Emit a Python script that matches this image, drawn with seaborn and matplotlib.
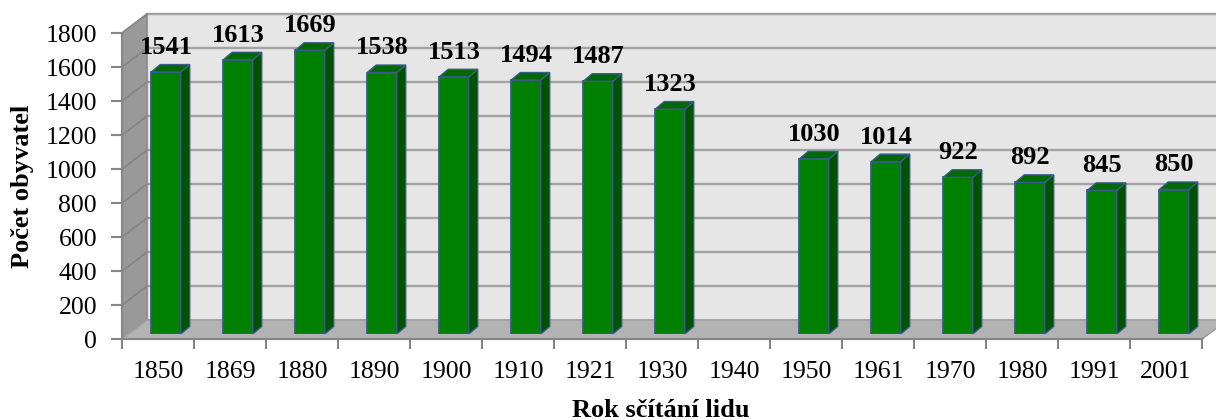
import numpy as np
import matplotlib
matplotlib.use('Agg')
import matplotlib.pyplot as plt
import seaborn as sns
from matplotlib.patches import Polygon

# data
years = ['1850', '1869', '1880', '1890', '1900', '1910', '1921', '1930',
         '1940', '1950', '1961', '1970', '1980', '1991', '2001']
population = [1541, 1613, 1669, 1538, 1513, 1494, 1487, 1323,
              np.nan, 1030, 1014, 922, 892, 845, 850]
y_ticks = list(range(0, 1801, 200))

plt.rcParams['font.family'] = ['Liberation Serif', 'DejaVu Serif']

W, H = 1216, 420
fig = plt.figure(figsize=(W / 100, H / 100), dpi=100)

# front plane of the 3D box in pixels
x0, x1, yb, yt = 122, 1202, 339, 33
ax = fig.add_axes([x0 / W, (H - yb) / H, (x1 - x0) / W, (yb - yt) / H])
n = len(years)
ax.set_xlim(-0.5, n - 0.5)
ax.set_ylim(0, 1800)
px_x = n / (x1 - x0)
px_y = 1800 / (yb - yt)

# depth of walls
DX, DY = 25 * px_x, 19 * px_y
L, R = -0.5, n - 0.5

back = Polygon([(L + DX, DY), (R + DX, DY), (R + DX, 1800 + DY), (L + DX, 1800 + DY)],
               closed=True, facecolor='#e6e6e6', edgecolor='#a6a6a6', lw=1.2,
               clip_on=False, zorder=0)
left = Polygon([(L, 0), (L + DX, DY), (L + DX, 1800 + DY), (L, 1800)],
               closed=True, facecolor='#999999', edgecolor='#8c8c8c', lw=1.0,
               clip_on=False, zorder=1)
floor = Polygon([(L, 0), (R, 0), (R + DX, DY), (L + DX, DY)],
                closed=True, facecolor='#b3b3b3', edgecolor='#a0a0a0', lw=1.0,
                clip_on=False, zorder=1)
for p in (back, left, floor):
    ax.add_patch(p)

for v in y_ticks[1:]:
    ax.plot([L + DX, R + DX], [v + DY, v + DY], color='#a3a3a3', lw=1.7,
            clip_on=False, zorder=0.5)
    ax.plot([L, L + DX], [v, v + DY], color='#858585', lw=1.2,
            clip_on=False, zorder=2)
ax.plot([R, R + DX], [0, DY], color='#a0a0a0', lw=1.2, clip_on=False, zorder=2)

# axes lines / ticks
ax.set_facecolor('none')
for s in ['top', 'right']:
    ax.spines[s].set_visible(False)
for s in ['left', 'bottom']:
    ax.spines[s].set_color('#868686')
    ax.spines[s].set_linewidth(1.5)
    ax.spines[s].set_zorder(3)
ax.set_yticks(y_ticks)
ax.set_yticklabels([str(v) for v in y_ticks])
ax.set_xticks(np.arange(-0.5, n, 1.0))
ax.set_xticklabels([])
ax.set_xticks(np.arange(n), minor=True)
ax.set_xticklabels(years, minor=True)
ax.tick_params(axis='y', length=8, width=1.5, color='#868686', pad=10, labelsize=18.5)
ax.tick_params(axis='x', which='major', length=7, width=1.5, color='#868686')
ax.tick_params(axis='x', which='minor', length=0, pad=16, labelsize=18.5)

# bars on an axes shifted into the box
bx, by = 8, 5
axb = fig.add_axes([(x0 + bx) / W, (H - yb + by) / H, (x1 - x0) / W, (yb - yt) / H])
sns.barplot(x=years, y=population, order=years, ax=axb, color='#008000',
            saturation=1, width=0.41, edgecolor='#3a5a8c', linewidth=1.3,
            errorbar=None)
axb.set_xlim(-0.5, n - 0.5)
axb.set_ylim(0, 1800)
axb.axis('off')

ddx, ddy = 9 * px_x, 7.5 * px_y
for p in list(axb.patches):
    h = p.get_height()
    if not np.isfinite(h) or h == 0:
        continue
    xa = p.get_x()
    xb = xa + p.get_width()
    idx = int(round(xa + p.get_width() / 2))
    side = Polygon([(xb, 0), (xb + ddx, ddy), (xb + ddx, h + ddy), (xb, h)],
                   closed=True, facecolor='#005200', edgecolor='#3a5a8c', lw=1.0,
                   clip_on=False)
    top = Polygon([(xa, h), (xb, h), (xb + ddx, h + ddy), (xa + ddx, h + ddy)],
                  closed=True, facecolor='#006a00', edgecolor='#3a5a8c', lw=1.0,
                  clip_on=False)
    axb.add_patch(side)
    axb.add_patch(top)
    axb.annotate(str(int(population[idx])), ((xa + xb) / 2, h), xytext=(0, 13),
                 textcoords='offset points', ha='center', va='baseline',
                 fontsize=19, fontweight='bold', annotation_clip=False)

fig.text(23 / W, 1 - 186 / H, 'Počet obyvatel', rotation=90, ha='center', va='center',
         fontsize=19, fontweight='bold')
fig.text(661 / W, 3 / H, 'Rok sčítání lidu', ha='center', va='baseline',
         fontsize=19, fontweight='bold')

fig.savefig('out.png', dpi=100)
